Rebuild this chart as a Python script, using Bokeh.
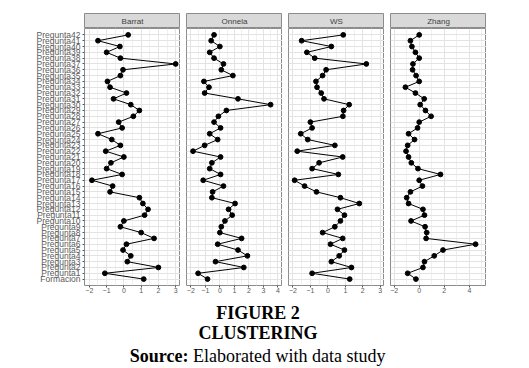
from bokeh.plotting import figure
from bokeh.models import FactorRange, Range1d, FixedTicker, Label, ColumnDataSource
from bokeh.layouts import column, row
from bokeh.embed import file_html
from bokeh.resources import INLINE

# categories listed top to bottom as they appear
categories = [
    "Pregunta42", "Pregunta41", "Pregunta40", "Pregunta39", "Pregunta38",
    "Pregunta37", "Pregunta36", "Pregunta35", "Pregunta34", "Pregunta33",
    "Pregunta32", "Pregunta31", "Pregunta30", "Pregunta29", "Pregunta28",
    "Pregunta27", "Pregunta26", "Pregunta25", "Pregunta24", "Pregunta23",
    "Pregunta22", "Pregunta21", "Pregunta20", "Pregunta19", "Pregunta18",
    "Pregunta17", "Pregunta16", "Pregunta15", "Pregunta14", "Pregunta13",
    "Pregunta12", "Pregunta11", "Pregunta10", "Pregunta9", "Pregunta8",
    "Pregunta7", "Pregunta6", "Pregunta5", "Pregunta4", "Pregunta3",
    "Pregunta2", "Pregunta1", "Formacion",
]

barrat = [0.25, -1.5, -0.23, -1.0, -0.2, 3.0, -0.05, -0.2, -0.95, -0.8,
          0.15, -0.6, 0.4, 0.9, 0.55, -0.3, -0.1, -1.5, -0.7, -0.2,
          -1.05, 0.0, -0.75, -1.0, -0.1, -1.85, -0.65, -0.8, 0.9, 1.1,
          1.4, 1.2, 0.0, -0.2, 1.0, 1.75, 0.15, -0.05, 0.4, 0.2,
          2.0, -1.1, 1.15]
onnela = [-0.4, -0.6, 0.0, -0.7, -0.4, 0.25, 0.1, 0.9, -1.1, -0.75,
          -1.05, 1.25, 3.5, 0.45, -0.1, -0.4, 0.05, -0.7, -0.15, -1.05,
          -1.85, 0.05, -0.55, -0.7, 0.05, -1.15, 0.25, -0.5, -0.55, 1.05,
          0.6, 0.85, 0.35, 0.1, 0.0, 1.5, -0.15, 1.25, 1.9, -0.3,
          1.65, -1.5, -0.85]
ws = [0.88, -1.5, 0.2, -1.2, -0.75, 2.2, -0.1, -0.3, -0.68, -0.62,
      -0.38, -0.22, 1.22, 0.9, 0.86, -1.0, -0.9, -1.55, -1.15, 0.4,
      -1.75, 0.85, -0.5, -0.9, 0.6, -1.9, -1.33, -0.65, 0.72, 1.8,
      0.55, 0.95, 0.72, 0.4, -0.3, 0.85, 0.15, 0.95, 0.65, 0.2,
      1.35, -0.9, 1.25]
zhang = [0.0, -0.7, -0.58, -0.3, 0.0, -0.5, -0.53, -0.25, 0.0, -1.1,
         -0.3, 0.4, 0.08, 0.5, 0.95, 0.0, -0.13, -0.85, -0.37, -0.92,
         -1.05, -0.85, -0.63, -0.1, 1.7, 0.0, 0.26, -0.7, -1.0, -0.85,
         0.3, 0.42, -0.65, 0.47, 0.6, 0.55, 4.5, 1.9, 1.2, 0.42,
         0.3, -0.92, -0.26]

panel_names = ["Barrat", "Onnela", "WS", "Zhang"]
panel_values = [barrat, onnela, ws, zhang]
x_limits = [(-2.28, 3.28), (-2.3, 4.32), (-2.25, 3.24), (-2.29, 5.37)]
x_ticks = [[-2, -1, 0, 1, 2, 3], [-2, -1, 0, 1, 2, 3, 4], [-2, -1, 0, 1, 2, 3], [-2, 0, 2, 4]]
x_minor = [[-1.5, -0.5, 0.5, 1.5, 2.5], [-1.5, -0.5, 0.5, 1.5, 2.5, 3.5], [-1.5, -0.5, 0.5, 1.5, 2.5], [-1, 1, 3, 5]]

caption_lines = ["FIGURE 2", "CLUSTERING"]
source_bold = "Source:"
source_text = "Elaborated with data study"

factors = categories[::-1]
FRAME_W = 96
LEFT_FIRST = 84
GAP = 6
GRID = "#e3e3e3"
MINOR = "#f0f0f0"
BORDER = "#8c8c8c"
TICKCOL = "#595959"

strips = []
panels = []
for i, (name, vals) in enumerate(zip(panel_names, panel_values)):
    first = i == 0
    lb = LEFT_FIRST if first else GAP
    w = lb + FRAME_W

    s = figure(width=w, height=28, x_range=Range1d(0, 1), y_range=Range1d(0, 1),
               x_axis_type=None, y_axis_type=None, output_backend="svg",
               toolbar_location=None, min_border_left=lb, min_border_right=0,
               min_border_top=13, min_border_bottom=0)
    s.grid.visible = False
    s.background_fill_color = "#d9d9d9"
    s.border_fill_color = "white"
    s.outline_line_color = BORDER
    s.add_layout(Label(x=0.5, y=0.5, text=name, text_align="center",
                       text_baseline="middle", text_font_size="8px",
                       text_color="#404040", text_font="Liberation Sans",
                       text_font_style="normal"))
    strips.append(s)

    lo, hi = x_limits[i]
    p = figure(width=w, height=271, x_range=Range1d(lo, hi),
               y_range=FactorRange(factors=factors, range_padding=0.6,
                                   range_padding_units="absolute"),
               output_backend="svg", toolbar_location=None,
               min_border_left=lb, min_border_right=0,
               min_border_top=0, min_border_bottom=14)
    p.background_fill_color = "white"
    p.border_fill_color = "white"
    p.outline_line_color = BORDER
    p.xaxis.ticker = FixedTicker(ticks=x_ticks[i], minor_ticks=x_minor[i])
    p.xgrid.grid_line_color = GRID
    p.xgrid.minor_grid_line_color = MINOR
    p.ygrid.grid_line_color = GRID

    p.xaxis.axis_line_color = None
    p.xaxis.major_tick_line_color = "#555555"
    p.xaxis.major_tick_out = 2
    p.xaxis.major_tick_in = 0
    p.xaxis.minor_tick_line_color = None
    p.xaxis.major_label_text_font_size = "7px"
    p.xaxis.major_label_text_color = TICKCOL
    p.xaxis.major_label_text_font = "Liberation Sans"
    p.xaxis.major_label_standoff = -2

    if first:
        p.yaxis.axis_line_color = None
        p.yaxis.major_tick_line_color = "#555555"
        p.yaxis.major_tick_out = 2
        p.yaxis.major_tick_in = 0
        p.yaxis.major_label_text_font_size = "8.5px"
        p.yaxis.major_label_text_color = TICKCOL
        p.yaxis.major_label_text_font = "Liberation Sans"
        p.yaxis.major_label_standoff = 2
    else:
        p.yaxis.visible = False

    src = ColumnDataSource(dict(x=vals, y=categories))
    p.line("x", "y", source=src, line_color="black", line_width=1)
    p.scatter("x", "y", source=src, size=4.8, fill_color="black", line_color="black")
    panels.append(p)

CAP_W = 518
CAP_H = 69
CX = 257.5
cap = figure(width=CAP_W, height=CAP_H, x_range=Range1d(0, CAP_W), y_range=Range1d(CAP_H, 0),
             x_axis_type=None, y_axis_type=None, output_backend="svg",
             toolbar_location=None, min_border=0)
cap.grid.visible = False
cap.outline_line_color = None
cap.background_fill_color = "white"
cap.border_fill_color = "white"
for txt, yy in zip(caption_lines, [13, 33]):
    cap.add_layout(Label(x=CX, y=yy, text=txt, text_align="center",
                         text_baseline="middle", text_font="Liberation Serif",
                         text_font_style="bold", text_font_size="18px", text_color="black"))
cap.add_layout(Label(x=CX - 69.5, y=56, text=source_bold, text_align="right",
                     text_baseline="middle", text_font="Liberation Serif",
                     text_font_style="bold", text_font_size="18px", text_color="black"))
cap.add_layout(Label(x=CX - 65, y=56, text=source_text, text_align="left",
                     text_baseline="middle", text_font="Liberation Serif",
                     text_font_size="18px", text_color="black"))

layout = column(row(*strips), row(*panels), cap)
open("out.html", "w").write(file_html(layout, INLINE))
